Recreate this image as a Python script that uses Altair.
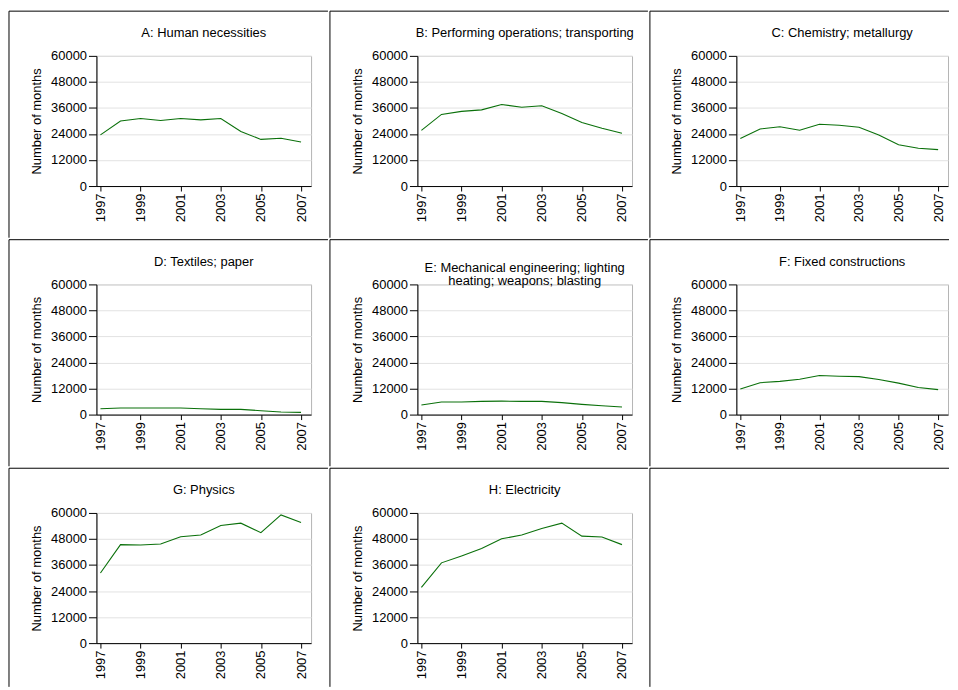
import altair as alt
import pandas as pd

years = [1997, 1998, 1999, 2000, 2001, 2002, 2003, 2004, 2005, 2006, 2007]
x_ticks = [1997, 1999, 2001, 2003, 2005, 2007]
y_ticks = [0, 12000, 24000, 36000, 48000, 60000]

titles = [
    ["A: Human necessities"],
    ["B: Performing operations; transporting"],
    ["C: Chemistry; metallurgy"],
    ["D: Textiles; paper"],
    ["E: Mechanical engineering; lighting", "heating; weapons; blasting"],
    ["F: Fixed constructions"],
    ["G: Physics"],
    ["H: Electricity"],
]

A = [23600, 30000, 31100, 30200, 31100, 30500, 31100, 25100, 21500, 22000, 20300]
B = [25650, 33000, 34400, 35100, 37600, 36300, 37000, 33400, 29300, 26600, 24300]
C = [21900, 26300, 27300, 25700, 28500, 28000, 27100, 23500, 19000, 17400, 16800]
D = [2700, 3000, 3000, 3000, 3000, 2700, 2400, 2400, 1800, 1200, 1000]
E = [4400, 5800, 5800, 6100, 6200, 6100, 6100, 5500, 4700, 4100, 3500]
F = [11800, 14700, 15300, 16300, 18000, 17700, 17500, 16200, 14500, 12500, 11500]
G = [32300, 45400, 45200, 45700, 49000, 49800, 54200, 55300, 50900, 59100, 55600]
H = [25700, 37000, 40200, 43600, 48100, 49800, 52800, 55300, 49300, 48900, 45400]

series = [A, B, C, D, E, F, G, H]

FONT = "Liberation Sans"
GREEN = "#0a700a"
PLOT_H = 131
TOP = 45

# per column: (left offset of cell border, plot width, cell width)
col_geom = [(88, 216, 321), (88, 216, 320), (87, 213, 301)]
row_bottom = [183, 183, 175]


def frame_layers(L, CW, bottom):
    dummy = pd.DataFrame({"k": [0]})
    return [
        alt.Chart(dummy).mark_rule(color="black", strokeWidth=1).encode(
            x=alt.value(-L), x2=alt.value(CW - L), y=alt.value(-TOP)
        ),
        alt.Chart(dummy).mark_rule(color="black", strokeWidth=1).encode(
            x=alt.value(-L), y=alt.value(-TOP), y2=alt.value(bottom)
        ),
        alt.Chart(dummy).mark_rect(opacity=0).encode(
            x=alt.value(-L), x2=alt.value(CW - L), y=alt.value(-TOP), y2=alt.value(bottom)
        ),
    ]


def cell(i):
    L, W, CW = col_geom[i % 3]
    bottom = row_bottom[i // 3]
    df = pd.DataFrame({"year": years, "value": series[i]})

    line = alt.Chart(df).mark_line(color=GREEN, strokeWidth=1.1).encode(
        x=alt.X(
            "year:Q",
            scale=alt.Scale(domain=[1996.8, 2007.5], nice=False, zero=False),
            axis=alt.Axis(
                values=x_ticks, format="d", labelAngle=270, tickSize=5,
                labelPadding=2, grid=False, labelFlush=False, labelOverlap=False,
                title=None,
            ),
        ),
        y=alt.Y(
            "value:Q",
            scale=alt.Scale(domain=[0, 60000], nice=False),
            axis=alt.Axis(
                values=y_ticks, format="d", tickSize=8, labelPadding=2,
                title="Number of months", titlePadding=7,
                grid=True, labelFlush=False, labelOverlap=False,
            ),
        ),
    )

    lines = titles[i]
    tdf = pd.DataFrame({"k": [0]})
    if len(lines) == 1:
        ttl = alt.Chart(tdf).mark_text(
            font=FONT, fontSize=13, color="black", align="center", baseline="middle"
        ).encode(text=alt.value(lines[0]), x=alt.value(W / 2), y=alt.value(-23))
    else:
        ttl = alt.Chart(tdf).mark_text(
            font=FONT, fontSize=13, color="black", align="center", baseline="middle",
            lineHeight=13.5,
        ).encode(text=alt.value(lines), x=alt.value(W / 2), y=alt.value(-16.5))

    layers = [line, ttl] + frame_layers(L, CW, bottom)
    return alt.layer(*layers).properties(width=W, height=PLOT_H)


def empty_cell():
    L, W, CW = col_geom[2]
    return alt.layer(*frame_layers(L, CW, row_bottom[2])).properties(
        width=W, height=PLOT_H, view=alt.ViewBackground(strokeOpacity=0)
    )


cells = [cell(i) for i in range(8)] + [empty_cell()]

chart = (
    alt.concat(*cells, columns=3, spacing=0)
    .properties(padding={"left": 0, "top": 0, "right": 0, "bottom": 0}, background="white")
    .configure_view(stroke="#b4b4b4", strokeWidth=1)
    .configure_axis(
        labelFont=FONT, titleFont=FONT, labelFontSize=13, titleFontSize=13,
        labelColor="black", titleColor="black", titleFontWeight="normal",
        domainColor="black", tickColor="black", domainWidth=1, tickWidth=1,
        gridColor="#e2e2e2", gridWidth=1,
    )
)

chart.save("out.html", embed_options={"renderer": "svg", "actions": False})
